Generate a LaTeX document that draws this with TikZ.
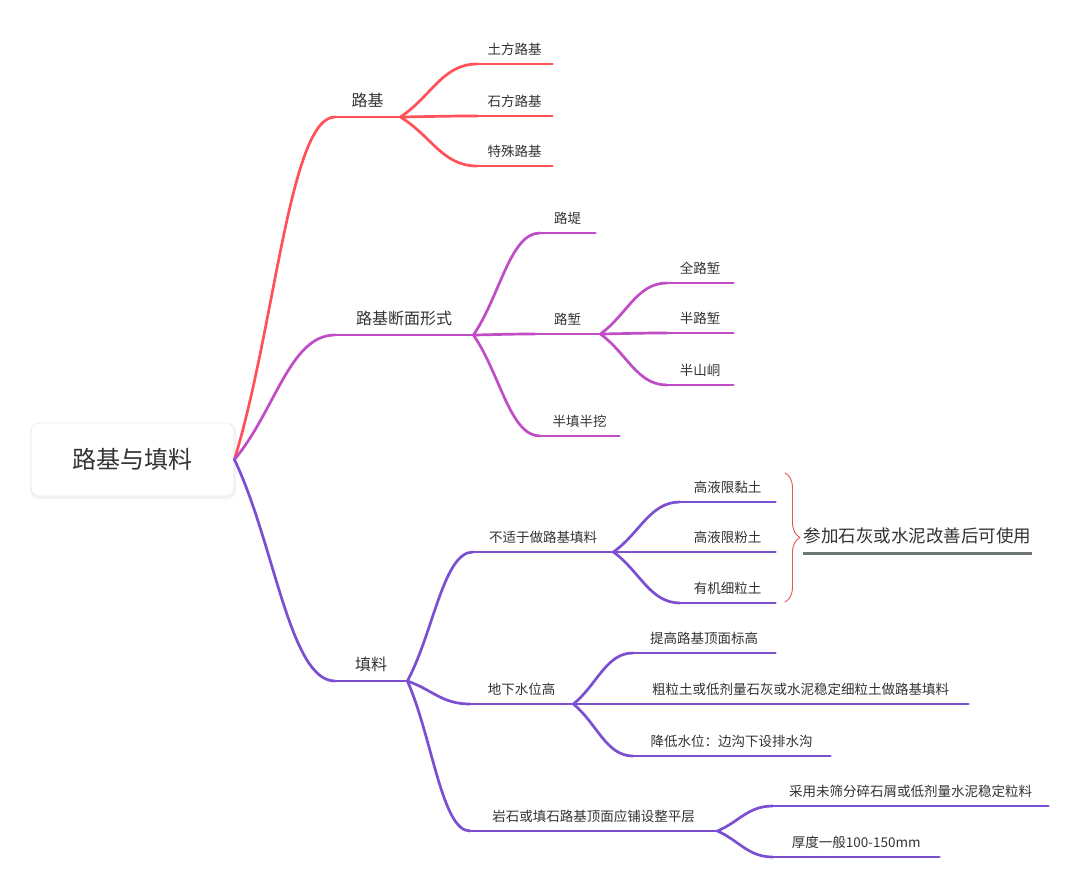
\documentclass[tikz,border=0pt]{standalone}
\usepackage{fontspec}
\newfontfamily\cjk{Noto Sans CJK SC}
\usetikzlibrary{calc,decorations.pathreplacing}
\definecolor{rb}{HTML}{FF5157}
\definecolor{mg}{HTML}{C04CC6}
\definecolor{pu}{HTML}{7A4FD2}
\definecolor{txt}{HTML}{333333}
\definecolor{brc}{HTML}{E05858}
\definecolor{gl}{HTML}{6E7676}
\tikzset{
  topic/.style={anchor=south west, inner xsep=0pt, inner ysep=8pt, text height=0.8em, text depth=0.1em,
    minimum width=#1pt, text=txt, font=\cjk\fontsize{13.5}{16}\selectfont},
  lone/.style={inner ysep=9pt, font=\cjk\fontsize{16}{19}\selectfont},
  notefont/.style={inner ysep=9pt, font=\cjk\fontsize{17.5}{21}\selectfont},
  conn/.style={line width=2.7pt},
  rootbox/.style={rounded corners=8pt, fill=white, draw=black!7, line width=0.8pt,
    minimum width=203pt, minimum height=73pt, text=txt, font=\cjk\fontsize{24}{28}\selectfont},
  bracestyle/.style={draw=brc, line width=0.9pt, decorate, decoration={brace, amplitude=15pt}},
}
\newcommand\mmlink[3]{\edef\mmA{#1}\edef\mmB{#2}\draw[#3,conn] let \p1=(\mmA), \p2=(\mmB) in (\p1) .. controls ({\x1+0.4*(\x2-\x1)},{\y1+0.38*(\y2-\y1)}) and ({\x1+0.55*(\x2-\x1)},\y2) .. (\p2);}
\newcommand\ul[2]{\draw[#2,conn] (#1.south west) -- (#1.south east);}
\begin{document}
\begin{tikzpicture}[x=1pt,y=-1pt,line cap=round,line join=round]
\useasboundingbox (0,0) rectangle (1080,888);
\fill[white] (0,0) rectangle (1080,888);

% root
\fill[black!5, rounded corners=9pt] (30,423) rectangle (236,499);
\node[rootbox] (root) at (132.5,459.5) {路基与填料};

% level 1
\node[topic=65,lone] (lj) at (335,117) {路基};
\node[topic=138,lone] (dm) at (335,335) {路基断面形式};
\node[topic=72,lone] (tl) at (335,681) {填料};

% red children
\node[topic=75] (a1) at (477,64) {土方路基};
\node[topic=75] (a2) at (477,116) {石方路基};
\node[topic=75] (a3) at (477,166) {特殊路基};

% magenta children
\node[topic=55] (b1) at (540,233) {路堤};
\node[topic=65] (b2) at (535,334) {路堑};
\node[topic=79] (b3) at (540,436) {半填半挖};
\node[topic=66] (c1) at (667,283) {全路堑};
\node[topic=66] (c2) at (667,333) {半路堑};
\node[topic=66] (c3) at (667,385) {半山峒};

% purple children
\node[topic=140] (d1) at (473,552) {不适于做路基填料};
\node[topic=103] (d2) at (470,704) {地下水位高};
\node[topic=247] (d3) at (470,831) {岩石或填石路基顶面应铺设整平层};
\node[topic=95] (e1) at (680,502) {高液限黏土};
\node[topic=95] (e2) at (680,552) {高液限粉土};
\node[topic=95] (e3) at (680,603) {有机细粒土};
\node[topic=142] (f1) at (633,653) {提高路基顶面标高};
\node[topic=335] (f2) at (633,704) {粗粒土或低剂量石灰或水泥稳定细粒土做路基填料};
\node[topic=197] (f3) at (633,756) {降低水位：边沟下设排水沟};
\node[topic=275] (g1) at (773,806) {采用未筛分碎石屑或低剂量水泥稳定粒料};
\node[topic=166] (g2) at (773,857) {厚度一般100-150mm};

% connectors
\mmlink{root.east}{lj.south west}{rb}
\mmlink{root.east}{dm.south west}{mg}
\mmlink{root.east}{tl.south west}{pu}
\ul{lj}{rb} \ul{dm}{mg} \ul{tl}{pu}

\foreach \k in {a1,a2,a3}{\mmlink{lj.south east}{\k.south west}{rb} \ul{\k}{rb}}
\foreach \k in {b1,b2,b3}{\mmlink{dm.south east}{\k.south west}{mg} \ul{\k}{mg}}
\foreach \k in {c1,c2,c3}{\mmlink{b2.south east}{\k.south west}{mg} \ul{\k}{mg}}
\foreach \k in {d1,d2,d3}{\mmlink{tl.south east}{\k.south west}{pu} \ul{\k}{pu}}
\foreach \k in {e1,e2,e3}{\mmlink{d1.south east}{\k.south west}{pu} \ul{\k}{pu}}
\foreach \k in {f1,f2,f3}{\mmlink{d2.south east}{\k.south west}{pu} \ul{\k}{pu}}
\foreach \k in {g1,g2}{\mmlink{d3.south east}{\k.south west}{pu} \ul{\k}{pu}}

% brace and note
\coordinate (bt) at (785,473);
\coordinate (bb) at (785,602);
\draw[bracestyle] (bt) -- (bb);
\node[topic=229,notefont] (note) at (803,553) {参加石灰或水泥改善后可使用};
\draw[gl,line width=3pt,line cap=butt] (note.south west) -- (note.south east);
\end{tikzpicture}
\end{document}
